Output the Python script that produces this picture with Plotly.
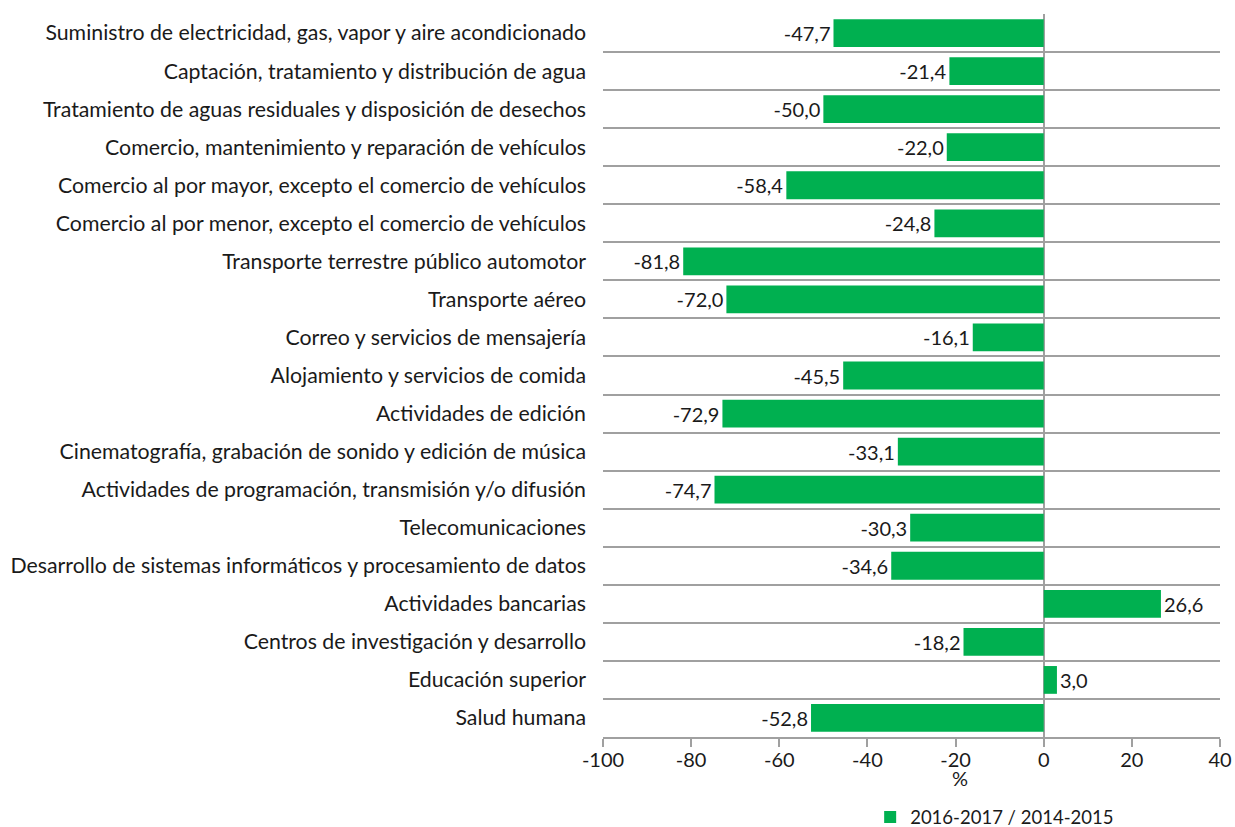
import plotly.graph_objects as go

sectores = [
    "Suministro de electricidad, gas, vapor y aire acondicionado",
    "Captación, tratamiento y distribución de agua",
    "Tratamiento de aguas residuales y disposición de desechos",
    "Comercio, mantenimiento y reparación de vehículos",
    "Comercio al por mayor, excepto el comercio de vehículos",
    "Comercio al por menor, excepto el comercio de vehículos",
    "Transporte terrestre público automotor",
    "Transporte aéreo",
    "Correo y servicios de mensajería",
    "Alojamiento y servicios de comida",
    "Actividades de edición",
    "Cinematografía, grabación de sonido y edición de música",
    "Actividades de programación, transmisión y/o difusión",
    "Telecomunicaciones",
    "Desarrollo de sistemas informáticos y procesamiento de datos",
    "Actividades bancarias",
    "Centros de investigación y desarrollo",
    "Educación superior",
    "Salud humana",
]
variacion = [-47.7, -21.4, -50.0, -22.0, -58.4, -24.8, -81.8, -72.0, -16.1, -45.5,
             -72.9, -33.1, -74.7, -30.3, -34.6, 26.6, -18.2, 3.0, -52.8]
serie = "2016-2017 / 2014-2015"
x_ticks = [-100, -80, -60, -40, -20, 0, 20, 40]

FONT = "Lato"
GRID = "#A0A0A0"
TXT = "#1a1a1a"

fig = go.Figure()
fig.add_trace(go.Bar(
    x=variacion, y=sectores, orientation="h", name=serie,
    marker=dict(color="#00B050", line=dict(width=0)),
    texttemplate="%{x:.1f}", textposition="outside",
    textfont=dict(size=20, color=TXT), cliponaxis=False,
))

fig.update_layout(
    width=1235, height=827,
    margin=dict(l=603, r=15, t=14, b=90, autoexpand=False),
    paper_bgcolor="white", plot_bgcolor="white",
    font=dict(family=FONT, size=20, color=TXT),
    separators=",.",
    bargap=0.27,
    showlegend=True,
    legend=dict(orientation="h", x=0.433, xanchor="left", y=-0.085, yanchor="top",
                font=dict(size=18.5), itemwidth=30),
    xaxis=dict(range=[-100, 40], tickvals=x_ticks, ticktext=[str(v) for v in x_ticks],
               showgrid=False,
               zeroline=True, zerolinecolor=GRID, zerolinewidth=1.5,
               showline=True, linecolor=GRID, linewidth=1.5,
               ticks="outside", ticklen=8, tickcolor=GRID, tickwidth=1.5,
               tickfont=dict(size=20), ticklabelstandoff=-4,
               ticklabeloverflow="allow"),
    yaxis=dict(range=[18.5, -0.5], tickson="boundaries", showgrid=True,
               gridcolor=GRID, gridwidth=1.5, ticks="", showline=False,
               tickfont=dict(size=21.3), ticklabelstandoff=16),
    annotations=[dict(text="%", xref="paper", yref="paper", x=0.579, y=-0.0567,
                      xanchor="center", yanchor="middle", showarrow=False,
                      font=dict(size=20))],
)

# drop the default 8px body margin so the figure fills the window exactly
fig.write_html("out.html", config={"displayModeBar": False},
               post_script="document.body.style.margin = '0';")
